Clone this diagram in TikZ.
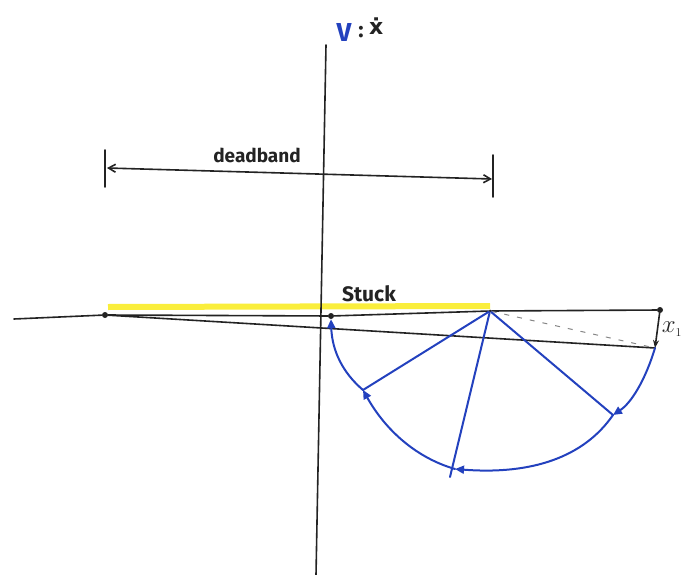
\documentclass[tikz,border=0pt]{standalone}
\usepackage{fontspec}
\setmainfont{Fira Sans}
\newfontfamily\dejavu{DejaVu Sans}
\usetikzlibrary{arrows.meta}
\definecolor{penblue}{RGB}{35,65,190}
\definecolor{hilite}{RGB}{250,238,60}
\definecolor{ink}{RGB}{35,35,35}
\tikzset{
  inkline/.style={draw=ink, line width=1.6pt, line cap=round},
  blueline/.style={draw=penblue, line width=2pt, line cap=round},
  dot/.style={circle, fill=ink, inner sep=0pt, minimum size=6pt},
  smalldot/.style={circle, fill=ink, inner sep=0pt, minimum size=3pt},
  btip/.style={-{Triangle[length=9pt,width=8pt]}},
  lbl/.style={text=ink, inner sep=0pt}
}
\begin{document}
\begin{tikzpicture}[x=1pt,y=-1pt]
\useasboundingbox (0,0) rectangle (685,575);
% points
\coordinate (axT) at (326,45);
\coordinate (axB) at (316,575);
\coordinate (hL) at (14,319);
\node[dot] (L) at (105,315) {};
\node[dot] (S) at (331,316) {};
\node[smalldot] (P) at (490,311) {};
\node[dot] (R) at (660,310) {};
\coordinate (E) at (655,348);
\coordinate (A1) at (613,415);
\coordinate (A2) at (455,469);
\coordinate (A3) at (363,390);
\coordinate (L2end) at (450,477);
% highlight
\draw[hilite, line width=6pt] (108,307) -- (490,306);
% axes
\draw[inkline] (axT) -- (axB);
\draw[inkline] (hL) -- (L);
\draw[inkline] (L) -- (S) -- (P) -- (R);
\draw[inkline] (L) -- (E);
\draw[ink!55, line width=1pt, dash pattern=on 5pt off 8pt] (P) -- (E);
\draw[inkline, -{Stealth[length=8pt,width=6pt]}] (R) -- (E);
% deadband
\coordinate (dbL) at (107,168);
\coordinate (dbR) at (492,179);
\draw[inkline] (105,150) -- (105,187);
\draw[inkline] (493,155) -- (493,197);
\draw[inkline, {Straight Barb[length=7pt,width=8pt]}-{Straight Barb[length=7pt,width=8pt]}] (dbL) -- (dbR);
\node[lbl, font=\fontsize{19}{19}\selectfont\bfseries] (db) at (257,155) {deadband};
\node[lbl, font=\fontsize{21}{21}\selectfont\bfseries] (st) at (369,294) {Stuck};
\node[lbl, text=penblue, font=\fontsize{26}{26}\selectfont\bfseries] (vv) at (344,32) {V};
\node[lbl, font=\fontsize{22}{22}\selectfont\bfseries] (colon) at (361,32) {:};
\node[lbl, anchor=west, font=\dejavu\fontsize{22}{22}\selectfont\bfseries] (xd) at (369,26) {ẋ};
\node[lbl, font=\fontsize{24}{24}\selectfont] (x1) at (672,329) {$x_{\scriptscriptstyle 1}$};
% blue radial lines
\draw[blueline] (P) -- (A3);
\draw[blueline] (P) -- (L2end);
\draw[blueline] (P) -- (A1);
% blue arc with arrows
\draw[blueline, btip] (E) .. controls (645,381) and (631,403) .. (A1);
\draw[blueline, btip] (A1) .. controls (584,457) and (532,475) .. (A2);
\draw[blueline, btip] (A2) .. controls (417,458) and (386,431) .. (A3);
\draw[blueline, btip] (A3) .. controls (343,373) and (332,351) .. (S.south);
\end{tikzpicture}
\end{document}
